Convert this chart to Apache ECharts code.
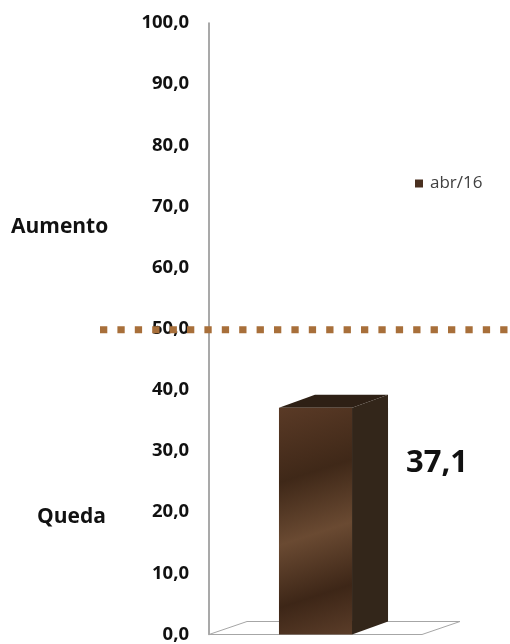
<!DOCTYPE html>
<html><head><meta charset="utf-8">
<script src="https://cdn.jsdelivr.net/npm/echarts@6/dist/echarts.min.js"></script>
<style>html,body{margin:0;padding:0;background:#fff}#c{width:510px;height:644px}</style>
</head><body><div id="c"></div>
<script>
const categories = ['abr/16'];
const seriesName = 'abr/16';
const values = [37.1];
const refLine = 50;
const yMin = 0, yMax = 100, yStep = 10;
const zoneLabels = ['Aumento', 'Queda'];

const fmt = v => v.toFixed(1).replace('.', ',');
const chart = echarts.init(document.getElementById('c'));
const FONT = '"Open Sans"';

chart.setOption({
  animation: false,
  backgroundColor: '#fff',
  grid: { left: 209, right: 88, top: 23, bottom: 8 },
  legend: {
    data: [seriesName], left: 410, top: 170, icon: 'rect',
    itemWidth: 8, itemHeight: 8, itemGap: 6,
    textStyle: { fontFamily: FONT, fontSize: 17, color: '#404040', padding: [0, 0, 0, 2] }
  },
  xAxis: {
    type: 'category', data: categories,
    axisLine: { show: false }, axisTick: { show: false }, axisLabel: { show: false },
    splitLine: { show: false }
  },
  yAxis: {
    type: 'value', min: yMin, max: yMax, interval: yStep,
    axisLine: { show: true, lineStyle: { color: '#8c8c8c', width: 1.5 } },
    axisTick: { show: false }, splitLine: { show: false },
    axisLabel: { formatter: fmt, margin: 20, fontFamily: FONT, fontWeight: 'bold', fontSize: 18.5, color: '#111' }
  },
  series: [{
    name: seriesName, type: 'custom',
    itemStyle: { color: '#4a3020' },
    encode: { x: 0, y: 1 },
    data: values.map((v, i) => [i, v]),
    renderItem: function (params, api) {
      const cs = params.coordSys;
      const base = api.coord([api.value(0), 0]);
      const top = api.coord([api.value(0), api.value(1)]);
      const bw = api.size([1, 0])[0] * 0.343;
      const dx = 36, dy = -13;
      const L = base[0] - bw / 2, R = base[0] + bw / 2, B = base[1], T = top[1];
      const fdx = 38;
      const grad = new echarts.graphic.LinearGradient(0, 0, 1, 1, [
        { offset: 0, color: '#5a3a26' }, { offset: 0.3, color: '#3f2818' },
        { offset: 0.55, color: '#6a4a32' }, { offset: 0.8, color: '#3d2617' },
        { offset: 1, color: '#5b3d29' }
      ]);
      return {
        type: 'group',
        children: [
          { type: 'polygon', shape: { points: [[cs.x, B], [cs.x + cs.width, B], [cs.x + cs.width + fdx, B + dy], [cs.x + fdx, B + dy]] },
            style: { fill: '#fff', stroke: '#a6a6a6', lineWidth: 1 } },
          { type: 'polygon', shape: { points: [[L, T], [L + dx, T + dy], [R + dx, T + dy], [R, T]] },
            style: { fill: '#2e2015' } },
          { type: 'polygon', shape: { points: [[R, T], [R + dx, T + dy], [R + dx, B + dy], [R, B]] },
            style: { fill: '#33261a' } },
          { type: 'rect', shape: { x: L, y: T, width: bw, height: B - T }, style: { fill: grad } },
          { type: 'text', style: { text: fmt(api.value(1)), x: R + dx + 18, y: T + 56, verticalAlign: 'middle',
            font: 'bold 31px ' + FONT, fill: '#111' } }
        ]
      };
    }
  }]
});

const yRef = chart.convertToPixel({ yAxisIndex: 0 }, refLine);
chart.setOption({
  graphic: [
    { type: 'line', shape: { x1: 100, y1: yRef + 1, x2: 512, y2: yRef + 1 }, z: 10,
      style: { stroke: '#a86f3a', lineWidth: 7, lineDash: [7.3, 10.1] } },
    { type: 'text', left: 11, top: 217, style: { text: zoneLabels[0], font: 'bold 21px ' + FONT, fill: '#111' } },
    { type: 'text', left: 37, top: 507, style: { text: zoneLabels[1], font: 'bold 21px ' + FONT, fill: '#111' } }
  ]
});
</script></body></html>
